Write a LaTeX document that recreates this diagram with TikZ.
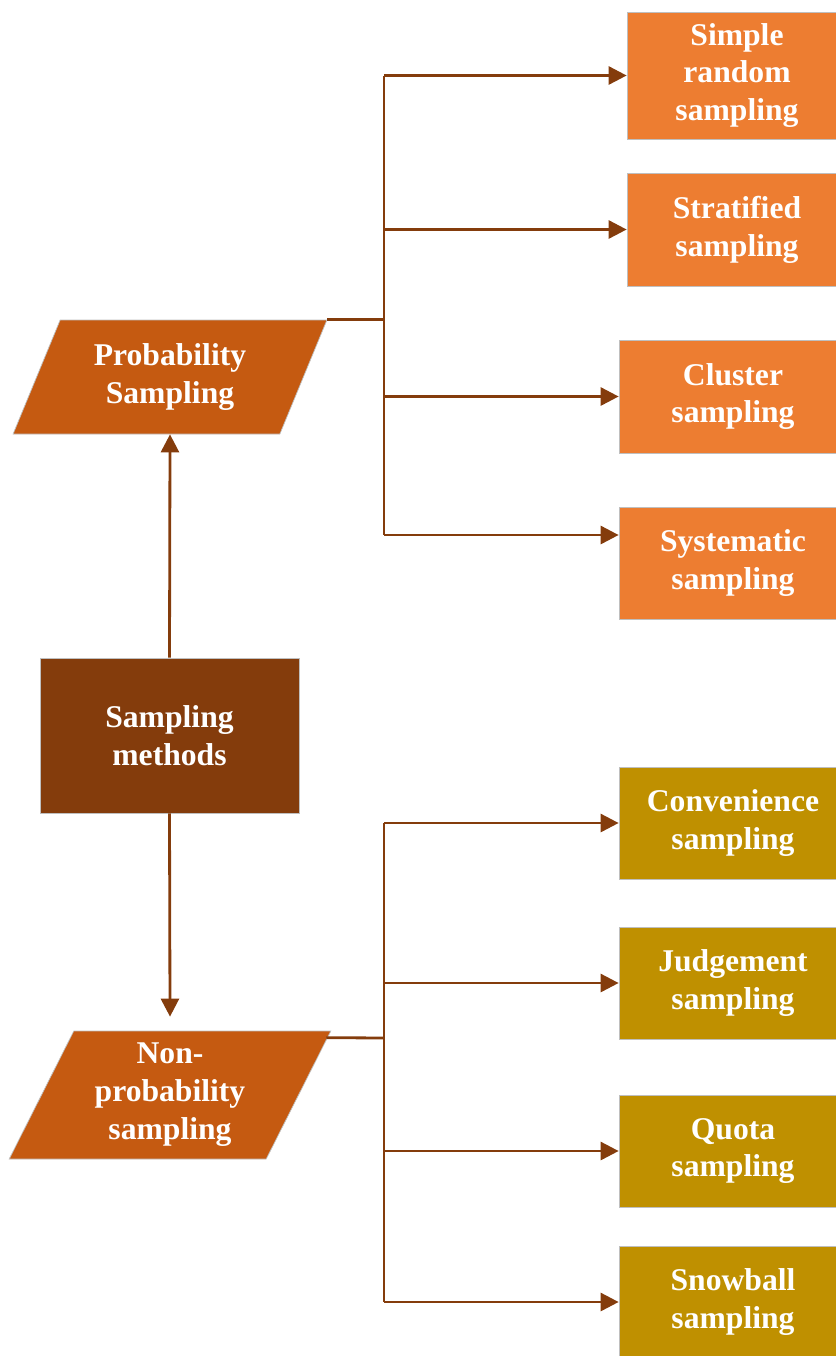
\documentclass[tikz,border=0pt]{standalone}
\usepackage{fontspec}
\setmainfont{Liberation Serif}
\usetikzlibrary{shapes.geometric, arrows.meta, calc}
\definecolor{darkbrown}{RGB}{132, 60, 12}
\definecolor{rustorange}{RGB}{197, 90, 17}
\definecolor{lightorange}{RGB}{237, 125, 49}
\definecolor{darkgold}{RGB}{191, 144, 0}
\definecolor{edgegray}{RGB}{191, 191, 191}

\begin{document}
\begin{tikzpicture}[
    >={Triangle[length=0.36cm, width=0.36cm]},
    every node/.style={font=\fontsize{18}{21.6}\selectfont\bfseries, text=white, align=center},
    rootcard/.style={rectangle, draw=edgegray, line width=0.4pt, fill=darkbrown,
        minimum width=5.18cm, minimum height=3.10cm},
    groupcard/.style={trapezium, trapezium left angle=64, trapezium right angle=116,
        trapezium stretches=true, draw=edgegray, line width=0.4pt, fill=rustorange, inner sep=0pt},
    probcard/.style={rectangle, draw=edgegray, line width=0.4pt, fill=lightorange,
        minimum height=2.26cm, inner sep=2pt},
    nonprobcard/.style={rectangle, draw=edgegray, line width=0.4pt, fill=darkgold,
        minimum width=4.56cm, minimum height=2.24cm, inner sep=2pt},
    link/.style={line width=1.6pt, darkbrown},
    arrow/.style={->, line width=1.6pt, darkbrown}
]
    \useasboundingbox (0,0) rectangle (16.7,-27.12);

    \node[rootcard] (methods) at (3.39,-14.71) {Sampling\\methods};

    \node[groupcard, minimum width=6.28cm, minimum height=2.28cm] (prob) at (3.40,-7.54) {Probability\\Sampling};
    \node[groupcard, minimum width=6.44cm, minimum height=2.56cm] (nonprob) at (3.40,-21.90) {Non-\\probability\\sampling};

    \draw[arrow] (methods.north) -- (prob.south);
    \draw[arrow] (methods.south) -- ([yshift=0.28cm]nonprob.north);

    % probability branch
    \node[probcard, minimum width=4.40cm, minimum height=2.54cm] (simple) at (14.74,-1.51) {Simple\\random\\sampling};
    \node[probcard, minimum width=4.40cm] (strat) at (14.74,-4.59) {Stratified\\sampling};
    \node[probcard, minimum width=4.56cm] (cluster) at (14.66,-7.93) {Cluster\\sampling};
    \node[probcard, minimum width=4.56cm, minimum height=2.24cm] (system) at (14.66,-11.26) {Systematic\\sampling};

    \coordinate (pj) at (7.68,0 |- prob.top right corner);
    \draw[link] (prob.top right corner) -- (pj);
    \draw[link] (pj |- simple.west) -- (pj |- 0,-10.70);
    \draw[arrow] (pj |- simple.west) -- (simple.west);
    \draw[arrow] (pj |- strat.west) -- (strat.west);
    \draw[arrow] (pj |- cluster.west) -- (cluster.west);
    \draw[arrow] (pj |- 0,-10.70) -- (system.west |- 0,-10.70);

    % non-probability branch
    \node[nonprobcard] (conv) at (14.66,-16.46) {Convenience\\sampling};
    \node[nonprobcard] (judge) at (14.66,-19.66) {Judgement\\sampling};
    \node[nonprobcard] (quota) at (14.66,-23.02) {Quota\\sampling};
    \node[nonprobcard] (snow) at (14.66,-26.04) {Snowball\\sampling};

    \coordinate (nj) at (7.68,-20.76);
    \draw[link] ($(nonprob.top right corner)+(-0.1,-0.14)$) -- (nj);
    \draw[link] (nj |- conv.west) -- (nj |- snow.west);
    \draw[arrow] (nj |- conv.west) -- (conv.west);
    \draw[arrow] (nj |- judge.west) -- (judge.west);
    \draw[arrow] (nj |- quota.west) -- (quota.west);
    \draw[arrow] (nj |- snow.west) -- (snow.west);
\end{tikzpicture}
\end{document}
